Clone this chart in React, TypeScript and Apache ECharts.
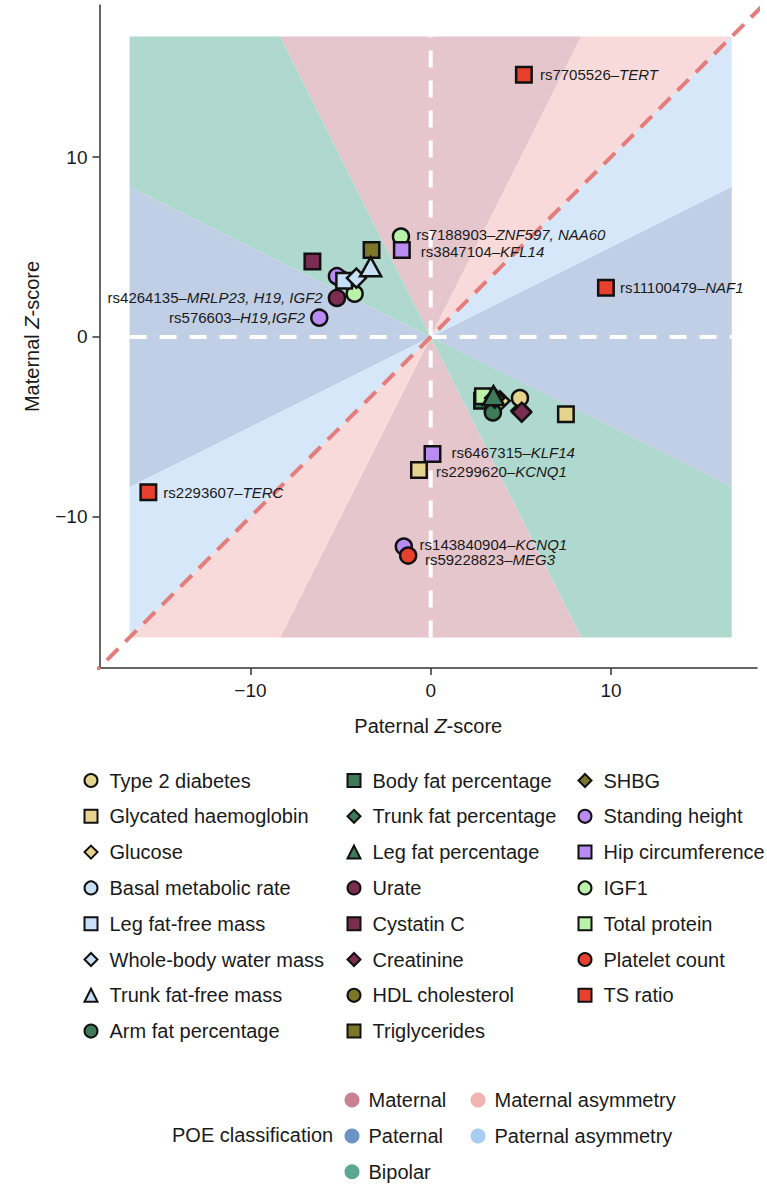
import React, { useEffect, useRef } from "react";
import * as echarts from "echarts";

const FONT = '"Liberation Sans", Arial, Helvetica, sans-serif';

// ---- axes ----
const xRange = [-18.37, 18.1];
const yRange = [-18.4, 18.45];
const tickValues = [-10, 0, 10];
const shadeHalf = 16.7;

// ---- POE classification wedges (angle ranges in degrees, paternal = x, maternal = y) ----
const poeNames = ["Maternal", "Paternal", "Bipolar", "Maternal asymmetry", "Paternal asymmetry"];
const maternalWedges = [[63.43, 116.57], [243.43, 296.57]];
const paternalWedges = [[-26.57, 26.57], [153.43, 206.57]];
const bipolarWedges = [[116.57, 153.43], [296.57, 333.43]];
const maternalAsymWedges = [[45, 63.43], [225, 243.43]];
const paternalAsymWedges = [[26.57, 45], [206.57, 225]];

// ---- trait points: [paternal Z, maternal Z, rsID?, gene?] ----
const type2Diabetes = [[4.95, -3.4]];
const glycatedHaemoglobin = [[7.5, -4.3], [-0.65, -7.4, "rs2299620", "KCNQ1"]];
const glucose = [[3.85, -3.55]];
const basalMetabolicRate = [[-4.95, 3.2]];
const legFatFreeMass = [[-4.8, 3.12]];
const wholeBodyWaterMass = [[-4.12, 3.27]];
const trunkFatFreeMass = [[-3.33, 3.9]];
const armFatPercentage = [[3.45, -4.2]];
const bodyFatPercentage = [[2.85, -3.55]];
const trunkFatPercentage = [[3.55, -3.4]];
const legFatPercentage = [[3.48, -3.26]];
const urate = [[-5.2, 2.17, "rs4264135", "MRLP23, H19, IGF2"]];
const cystatinC = [[-6.56, 4.2]];
const creatinine = [[5.05, -4.18]];
const hdlCholesterol = [[3.45, -4.1]];
const triglycerides = [[-3.28, 4.83]];
const shbg = [[5.0, -4.1]];
const standingHeight = [[-5.2, 3.38], [-6.18, 1.07, "rs576603", "H19,IGF2"], [-1.49, -11.65, "rs143840904", "KCNQ1"]];
const hipCircumference = [[-1.6, 4.83, "rs3847104", "KFL14"], [0.1, -6.5, "rs6467315", "KLF14"]];
const igf1 = [[-1.65, 5.58, "rs7188903", "ZNF597, NAA60"], [-4.22, 2.4]];
const totalProtein = [[2.9, -3.3]];
const plateletCount = [[-1.25, -12.15, "rs59228823", "MEG3"]];
const tsRatio = [[5.17, 14.57, "rs7705526", "TERT"], [9.72, 2.74, "rs11100479", "NAF1"], [-15.66, -8.63, "rs2293607", "TERC"]];

// ---- styles ----
const TAN = "#e6d38d";
const LBLUE = "#c8e0f6";
const DGREEN = "#3f7b5a";
const MAROON = "#7b2c51";
const OLIVE = "#7b7628";
const PURPLE = "#b98bf3";
const LGREEN = "#b9f3a9";
const RED = "#e8402e";

const traits: any[] = [
  { name: "Type 2 diabetes", data: type2Diabetes, symbol: "circle", color: TAN, col: 0, z: 10 },
  { name: "Glycated haemoglobin", data: glycatedHaemoglobin, symbol: "rect", color: TAN, col: 0, z: 12 },
  { name: "Glucose", data: glucose, symbol: "diamond", color: TAN, col: 0, z: 10 },
  { name: "Basal metabolic rate", data: basalMetabolicRate, symbol: "circle", color: LBLUE, col: 0, z: 9 },
  { name: "Leg fat-free mass", data: legFatFreeMass, symbol: "rect", color: LBLUE, col: 0, z: 11 },
  { name: "Whole-body water mass", data: wholeBodyWaterMass, symbol: "diamond", color: LBLUE, col: 0, z: 12 },
  { name: "Trunk fat-free mass", data: trunkFatFreeMass, symbol: "triangle", color: LBLUE, col: 0, z: 13 },
  { name: "Arm fat percentage", data: armFatPercentage, symbol: "circle", color: DGREEN, col: 0, z: 10 },
  { name: "Body fat percentage", data: bodyFatPercentage, symbol: "rect", color: DGREEN, col: 1, z: 9 },
  { name: "Trunk fat percentage", data: trunkFatPercentage, symbol: "diamond", color: DGREEN, col: 1, z: 11 },
  { name: "Leg fat percentage", data: legFatPercentage, symbol: "triangle", color: DGREEN, col: 1, z: 12 },
  { name: "Urate", data: urate, symbol: "circle", color: MAROON, col: 1, z: 11 },
  { name: "Cystatin C", data: cystatinC, symbol: "rect", color: MAROON, col: 1, z: 11 },
  { name: "Creatinine", data: creatinine, symbol: "diamond", color: MAROON, col: 1, z: 11 },
  { name: "HDL cholesterol", data: hdlCholesterol, symbol: "circle", color: OLIVE, col: 1, z: 9 },
  { name: "Triglycerides", data: triglycerides, symbol: "rect", color: OLIVE, col: 1, z: 11 },
  { name: "SHBG", data: shbg, symbol: "diamond", color: OLIVE, col: 2, z: 9 },
  { name: "Standing height", data: standingHeight, symbol: "circle", color: PURPLE, col: 2, z: 10 },
  { name: "Hip circumference", data: hipCircumference, symbol: "rect", color: PURPLE, col: 2, z: 11 },
  { name: "IGF1", data: igf1, symbol: "circle", color: LGREEN, col: 2, z: 10 },
  { name: "Total protein", data: totalProtein, symbol: "rect", color: LGREEN, col: 2, z: 10 },
  { name: "Platelet count", data: plateletCount, symbol: "circle", color: RED, col: 2, z: 11 },
  { name: "TS ratio", data: tsRatio, symbol: "rect", color: RED, col: 2, z: 11 },
];

const symbolSizes: any = { circle: 16, rect: 15.5, diamond: 19, triangle: [21, 19] };

const labelPlacement: any = {
  rs7705526: { side: "right", dist: 7, dy: 0 },
  rs11100479: { side: "right", dist: 5, dy: 0 },
  rs2293607: { side: "right", dist: 6, dy: 0 },
  rs7188903: { side: "right", dist: 6, dy: -2 },
  rs3847104: { side: "right", dist: 10, dy: 1 },
  rs4264135: { side: "left", dist: 5, dy: 0 },
  rs576603: { side: "left", dist: 5, dy: 0 },
  rs6467315: { side: "right", dist: 10, dy: -1 },
  rs2299620: { side: "right", dist: 8, dy: 1 },
  rs143840904: { side: "right", dist: 6.5, dy: -2 },
  rs59228823: { side: "right", dist: 7.5, dy: 4 },
};

const poeLegendColors: any = {
  Maternal: "#c9818f",
  Paternal: "#6b93c7",
  Bipolar: "#5ba890",
  "Maternal asymmetry": "#f2b3b3",
  "Paternal asymmetry": "#a8cdf3",
};
const poeFills: any = {
  Maternal: "#e6c6cd",
  Paternal: "#c1cfe6",
  Bipolar: "#afd9cf",
  "Maternal asymmetry": "#f8dada",
  "Paternal asymmetry": "#d6e7fa",
};
const poeWedgeData: any = {
  Maternal: maternalWedges,
  Paternal: paternalWedges,
  Bipolar: bipolarWedges,
  "Maternal asymmetry": maternalAsymWedges,
  "Paternal asymmetry": paternalAsymWedges,
};

function boundaryPoint(deg: number) {
  const r = (deg * Math.PI) / 180;
  const c = Math.cos(r);
  const s = Math.sin(r);
  const m = Math.max(Math.abs(c), Math.abs(s));
  return [(c / m) * shadeHalf, (s / m) * shadeHalf];
}

function wedgePolygon(a1: number, a2: number) {
  const pts = [[0, 0], boundaryPoint(a1)];
  for (let k = -315; k <= 405; k += 90) {
    if (k > a1 && k < a2) pts.push(boundaryPoint(k));
  }
  pts.push(boundaryPoint(a2));
  return pts;
}

const minus = (v: number) => String(v).replace("-", "\u2212");

function buildOption() {
  const series: any[] = [];

  poeNames.forEach((name) => {
    const fill = poeFills[name];
    series.push({
      type: "custom",
      name,
      z: 1,
      silent: true,
      itemStyle: { color: poeLegendColors[name] },
      encode: { x: 0, y: 1 },
      data: poeWedgeData[name].map((w: number[]) => [0, 0, w[0], w[1]]),
      renderItem: (params: any, api: any) => {
        const poly = wedgePolygon(api.value(2), api.value(3)).map((p) => api.coord(p));
        return { type: "polygon", shape: { points: poly }, style: { fill }, silent: true };
      },
    });
  });

  const dashWhite = { color: "#ffffff", width: 4, type: [17, 13] };
  series.push({
    type: "line",
    z: 2,
    silent: true,
    symbol: "none",
    lineStyle: dashWhite,
    data: [[0, -shadeHalf], [0, shadeHalf]],
  });
  series.push({
    type: "line",
    z: 2,
    silent: true,
    symbol: "none",
    lineStyle: dashWhite,
    data: [[-shadeHalf, 0], [shadeHalf, 0]],
  });
  series.push({
    type: "line",
    z: 3,
    silent: true,
    symbol: "none",
    clip: true,
    lineStyle: { color: "#e57d7b", width: 4, type: [16, 10] },
    data: [[-20, -20], [20, 20]],
  });

  traits.forEach((t) => {
    series.push({
      type: "scatter",
      name: t.name,
      z: t.z,
      symbol: t.symbol,
      symbolSize: symbolSizes[t.symbol],
      itemStyle: { color: t.color, borderColor: "#111111", borderWidth: 2.5, opacity: 1 },
      label: {
        show: false,
        fontSize: 15,
        fontFamily: FONT,
        color: "#1a1a1a",
        rich: { i: { fontStyle: "italic", fontSize: 15, fontFamily: FONT, color: "#1a1a1a" } },
      },
      emphasis: { disabled: true },
      data: t.data.map((d: any[]) => {
        const item: any = { value: [d[0], d[1]] };
        if (d[2]) {
          const cfg = labelPlacement[d[2]];
          item.label = {
            show: true,
            position: cfg.side,
            distance: cfg.dist,
            offset: [0, cfg.dy],
            formatter: `${d[2]}\u2013{i|${d[3]}}`,
          };
        }
        return item;
      }),
    });
  });

  const legendCols = [83.5, 346.5, 577.5];
  const legends: any[] = legendCols.map((left, ci) => ({
    orient: "vertical",
    left,
    top: 770.5,
    padding: 0,
    itemWidth: 13,
    itemHeight: 13,
    itemGap: 15.8,
    selectedMode: false,
    itemStyle: { borderColor: "#111111", borderWidth: 2 },
    textStyle: { fontSize: 20, fontFamily: FONT, color: "#1a1a1a", padding: [0, 0, 0, 7] },
    data: traits.filter((t) => t.col === ci).map((t) => ({ name: t.name, icon: t.symbol })),
  }));

  const poeCols = [
    { left: 344.5, names: ["Maternal", "Paternal", "Bipolar"] },
    { left: 470.5, names: ["Maternal asymmetry", "Paternal asymmetry"] },
  ];
  poeCols.forEach((c) => {
    legends.push({
      orient: "vertical",
      left: c.left,
      top: 1090,
      padding: 0,
      itemWidth: 15,
      itemHeight: 15,
      itemGap: 15.9,
      selectedMode: false,
      itemStyle: { borderWidth: 0, opacity: 1 },
      textStyle: { fontSize: 20, fontFamily: FONT, color: "#1a1a1a", padding: [0, 0, 0, 4] },
      data: c.names.map((n) => ({ name: n, icon: "circle", itemStyle: { color: poeLegendColors[n], opacity: 1 } })),
    });
  });

  const axisCommon = {
    type: "value",
    nameLocation: "middle",
    axisLine: { show: true, onZero: false, lineStyle: { color: "#333333", width: 1.5 } },
    axisTick: { show: true, length: 7, lineStyle: { color: "#333333", width: 1.5 }, customValues: tickValues },
    axisLabel: {
      fontSize: 19,
      fontFamily: FONT,
      color: "#1a1a1a",
      customValues: tickValues,
      formatter: (v: number) => minus(v),
    },
    splitLine: { show: false },
    nameTextStyle: {
      fontSize: 20,
      fontFamily: FONT,
      color: "#1a1a1a",
      rich: { i: { fontStyle: "italic", fontSize: 20, fontFamily: FONT, color: "#1a1a1a" } },
    },
  };

  return {
    animation: false,
    backgroundColor: "#ffffff",
    grid: { left: 99.5, top: 5, width: 657.5, height: 663 },
    xAxis: {
      ...axisCommon,
      min: xRange[0],
      max: xRange[1],
      name: "Paternal {i|Z}-score",
      nameGap: 48,
      axisLabel: { ...axisCommon.axisLabel, margin: 13 },
    },
    yAxis: {
      ...axisCommon,
      min: yRange[0],
      max: yRange[1],
      name: "Maternal {i|Z}-score",
      nameGap: 58,
      axisLabel: { ...axisCommon.axisLabel, margin: 12 },
    },
    legend: legends,
    graphic: [
      {
        type: "text",
        left: 172,
        top: 1125,
        style: { text: "POE classification", fontSize: 20, fontFamily: FONT, fill: "#1a1a1a" },
      },
    ],
    series,
  };
}

export default function App() {
  const ref = useRef<HTMLDivElement>(null);
  useEffect(() => {
    if (!ref.current) return;
    const chart = echarts.init(ref.current, undefined, { renderer: "svg" });
    chart.setOption(buildOption() as any);
    return () => chart.dispose();
  }, []);
  return (
    <div
      ref={ref}
      style={{ position: "fixed", left: 0, top: 0, width: 767, height: 1200, background: "#fff" }}
    />
  );
}
